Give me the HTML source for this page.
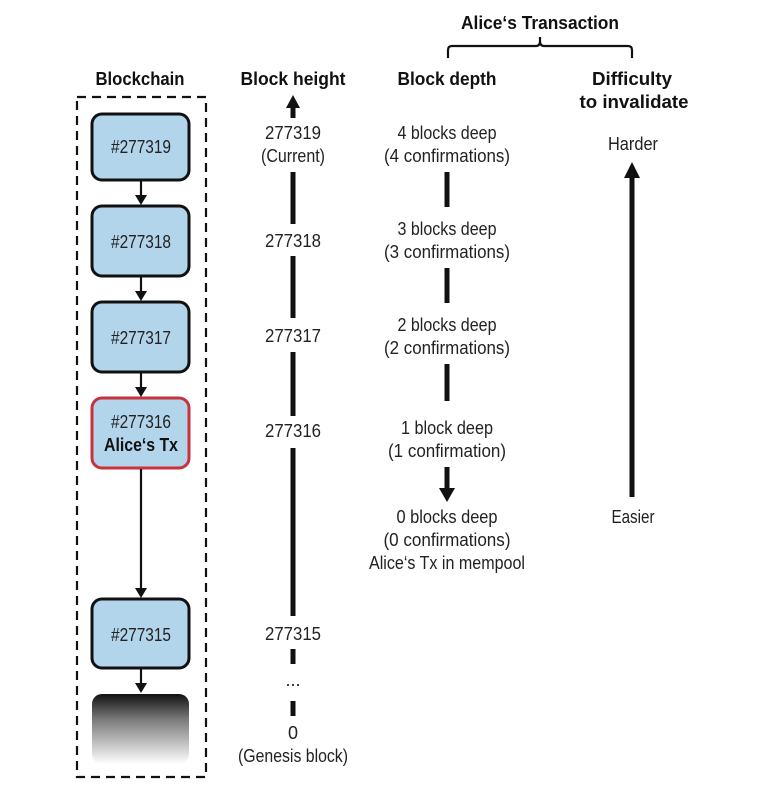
<!DOCTYPE html>
<html><head><meta charset="utf-8"><style>
html,body{margin:0;padding:0;background:#fff;}
svg{display:block;}
text{font-family:"Liberation Sans Narrow","Liberation Sans",sans-serif;font-size:18px;fill:#222;text-anchor:middle;}
.b{font-weight:bold;fill:#111;}
</style></head><body>
<svg width="766" height="794" viewBox="0 0 766 794" xmlns="http://www.w3.org/2000/svg">
<defs>
<linearGradient id="g" x1="0" y1="0" x2="0" y2="1">
<stop offset="0" stop-color="#111"/><stop offset="0.35" stop-color="#777"/><stop offset="1" stop-color="#fff"/>
</linearGradient>
</defs>
<!-- headers -->
<text class="b" x="140" y="85" textLength="89" lengthAdjust="spacingAndGlyphs">Blockchain</text>
<text class="b" x="293" y="85" textLength="105" lengthAdjust="spacingAndGlyphs">Block height</text>
<text class="b" x="447" y="85" textLength="99" lengthAdjust="spacingAndGlyphs">Block depth</text>
<text class="b" x="632" y="85" textLength="80" lengthAdjust="spacingAndGlyphs">Difficulty</text>
<text class="b" x="634" y="108" textLength="109" lengthAdjust="spacingAndGlyphs">to invalidate</text>
<text class="b" x="540" y="29" textLength="158" lengthAdjust="spacingAndGlyphs">Alice‘s Transaction</text>
<path d="M448 58 V50 Q448 46 452 46 H536 Q540 46 540 41 V37 M540 41 Q540 46 544 46 H628 Q632 46 632 50 V58" fill="none" stroke="#111" stroke-width="2.2"/>
<!-- dashed box -->
<rect x="77" y="97" width="129" height="680" fill="none" stroke="#111" stroke-width="2.2" stroke-dasharray="9,6"/>
<!-- blocks -->
<g stroke="#111" stroke-width="3">
<rect x="92" y="114" width="97" height="66" rx="10" fill="#b3d5ec"/>
<rect x="92" y="206" width="97" height="70" rx="10" fill="#b3d5ec"/>
<rect x="92" y="302" width="97" height="70" rx="10" fill="#b3d5ec"/>
<rect x="92" y="398" width="97" height="70" rx="10" fill="#b3d5ec" stroke="#c8323a"/>
<rect x="92" y="599" width="97" height="69" rx="10" fill="#b3d5ec"/>
</g>
<rect x="92" y="694" width="97" height="70" rx="10" fill="url(#g)"/>
<!-- chain arrows -->
<g stroke="#111" stroke-width="2.2">
<line x1="141" y1="181" x2="141" y2="197"/>
<line x1="141" y1="277" x2="141" y2="293"/>
<line x1="141" y1="373" x2="141" y2="389"/>
<line x1="141" y1="469" x2="141" y2="590"/>
<line x1="141" y1="669" x2="141" y2="685"/>
</g>
<g fill="#111">
<path d="M135 195 L147 195 L141 205 Z"/>
<path d="M135 291 L147 291 L141 301 Z"/>
<path d="M135 387 L147 387 L141 397 Z"/>
<path d="M135 588 L147 588 L141 598 Z"/>
<path d="M135 683 L147 683 L141 693 Z"/>
</g>
<text x="141" y="153" textLength="60" lengthAdjust="spacingAndGlyphs">#277319</text>
<text x="141" y="248" textLength="60" lengthAdjust="spacingAndGlyphs">#277318</text>
<text x="141" y="344" textLength="60" lengthAdjust="spacingAndGlyphs">#277317</text>
<text x="141" y="428" textLength="60" lengthAdjust="spacingAndGlyphs">#277316</text>
<text class="b" x="141" y="451" textLength="74" lengthAdjust="spacingAndGlyphs">Alice‘s Tx</text>
<text x="141" y="641" textLength="60" lengthAdjust="spacingAndGlyphs">#277315</text>
<!-- block height column -->
<path d="M286 108 L300 108 L293 95 Z" fill="#111"/>
<g stroke="#111" stroke-width="5">
<line x1="293" y1="106" x2="293" y2="118"/>
<line x1="293" y1="172" x2="293" y2="224"/>
<line x1="293" y1="256" x2="293" y2="318"/>
<line x1="293" y1="352" x2="293" y2="416"/>
<line x1="293" y1="448" x2="293" y2="616"/>
<line x1="293" y1="649" x2="293" y2="664"/>
<line x1="293" y1="701" x2="293" y2="716"/>
</g>
<text x="293" y="139" textLength="56" lengthAdjust="spacingAndGlyphs">277319</text>
<text x="293" y="162" textLength="64" lengthAdjust="spacingAndGlyphs">(Current)</text>
<text x="293" y="247" textLength="56" lengthAdjust="spacingAndGlyphs">277318</text>
<text x="293" y="342" textLength="56" lengthAdjust="spacingAndGlyphs">277317</text>
<text x="293" y="437" textLength="56" lengthAdjust="spacingAndGlyphs">277316</text>
<text x="293" y="640" textLength="56" lengthAdjust="spacingAndGlyphs">277315</text>
<text x="293" y="686">...</text>
<text x="293" y="739">0</text>
<text x="293" y="762" textLength="110" lengthAdjust="spacingAndGlyphs">(Genesis block)</text>
<!-- block depth column -->
<g stroke="#111" stroke-width="5">
<line x1="447" y1="172" x2="447" y2="207"/>
<line x1="447" y1="268" x2="447" y2="303"/>
<line x1="447" y1="364" x2="447" y2="401"/>
<line x1="447" y1="467" x2="447" y2="490"/>
</g>
<path d="M439 488 L455 488 L447 502 Z" fill="#111"/>
<text x="447" y="139" textLength="99" lengthAdjust="spacingAndGlyphs">4 blocks deep</text>
<text x="447" y="162" textLength="126" lengthAdjust="spacingAndGlyphs">(4 confirmations)</text>
<text x="447" y="235" textLength="99" lengthAdjust="spacingAndGlyphs">3 blocks deep</text>
<text x="447" y="258" textLength="126" lengthAdjust="spacingAndGlyphs">(3 confirmations)</text>
<text x="447" y="331" textLength="99" lengthAdjust="spacingAndGlyphs">2 blocks deep</text>
<text x="447" y="354" textLength="126" lengthAdjust="spacingAndGlyphs">(2 confirmations)</text>
<text x="447" y="434" textLength="92" lengthAdjust="spacingAndGlyphs">1 block deep</text>
<text x="447" y="457" textLength="118" lengthAdjust="spacingAndGlyphs">(1 confirmation)</text>
<text x="447" y="523" textLength="101" lengthAdjust="spacingAndGlyphs">0 blocks deep</text>
<text x="447" y="546" textLength="127" lengthAdjust="spacingAndGlyphs">(0 confirmations)</text>
<text x="447" y="569" textLength="156" lengthAdjust="spacingAndGlyphs">Alice‘s Tx in mempool</text>
<!-- difficulty column -->
<line x1="632" y1="176" x2="632" y2="497" stroke="#111" stroke-width="5"/>
<path d="M624 178 L640 178 L632 162 Z" fill="#111"/>
<text x="633" y="150" textLength="50" lengthAdjust="spacingAndGlyphs">Harder</text>
<text x="633" y="523" textLength="43" lengthAdjust="spacingAndGlyphs">Easier</text>
</svg>
</body></html>
